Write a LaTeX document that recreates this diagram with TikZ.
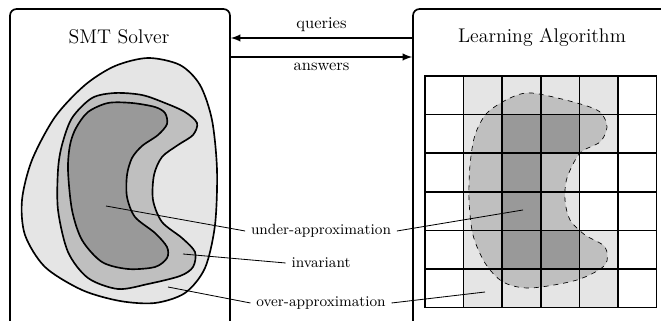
\documentclass[tikz,border=0pt]{standalone}
\usetikzlibrary{fit}

\tikzset{
  box/.style={draw, line width=1pt, rounded corners=4pt, inner sep=0pt},
  region/.style={draw, line width=1pt},
  leader/.style={line width=0.5pt},
  lbl/.style={font=\small},
}
\newcommand{\cs}{38.6}

\begin{document}
\begin{tikzpicture}[x=0.606pt, y=-0.606pt, >=latex]
\useasboundingbox (0,0) rectangle (661,322);
\clip (0,0) rectangle (661,321);
% Coordinates
\coordinate (s1) at (10,9);
\coordinate (s2) at (230,345);
\coordinate (l1) at (413,9);
\coordinate (l2) at (690,345);
\coordinate (q) at (0,38);
\coordinate (a) at (0,57);
% Boxes
\node[box, fit=(s1)(s2)] (smt) {};
\node[box, fit=(l1)(l2)] (learner) {};
\node[font=\large] (smt title) at (119,37) {SMT Solver};
\node[font=\large] (learner title) at (542,37) {Learning Algorithm};
% Messages
\draw[line width=1pt,->] (learner.west |- q) -- node[above] (queries) {queries} (smt.east |- q);
\draw[line width=1pt,->] (smt.east |- a) -- node[below] (answers) {answers} (learner.west |- a);
% Solver regions
\draw[region, fill=black!10] plot[smooth cycle] coordinates
  {(148,58) (180,65) (200,85) (212,120) (217,170) (215,225) (205,268)
   (185,293) (155,303) (120,301) (82,290) (45,267) (25,235) (22,200)
   (32,160) (55,117) (85,85) (115,66)};
\draw[region, fill=black!25] plot[smooth cycle] coordinates
  {(115,93) (142,95) (165,103) (185,112) (197,123) (193,135) (178,145)
   (162,157) (154,175) (153,200) (162,222) (182,238) (195,252) (193,267)
   (180,276) (148,284) (118,289) (88,278) (68,252) (58,210) (58,170)
   (62,145) (72,118) (92,98)};
\draw[region, fill=black!40] plot[smooth cycle] coordinates
  {(108,103) (132,103) (155,107) (165,113) (167,124) (158,135) (142,146)
   (132,158) (127,175) (127,197) (135,217) (155,233) (167,247) (167,258)
   (155,267) (128,269) (102,262) (82,240) (72,210) (68,170) (70,145)
   (76,128) (88,112)};
% Grid cells
\foreach \i/\j in {1/0,2/0,3/0,4/0,1/1,4/1,1/2,3/2,1/3,3/3,1/4,4/4,1/5,2/5,3/5,4/5}
  \fill[black!10] ({425+\i*\cs},{76+\j*\cs}) rectangle +(\cs,\cs);
\draw[dashed, fill=black!25] plot[smooth cycle] coordinates
  {(487,113) (510,98) (532,93) (577,103) (600,112) (607,127) (600,142)
   (580,153) (567,178) (565,200) (570,220) (585,235) (605,247) (605,265)
   (577,280) (530,288) (503,282) (485,263) (473,235) (469,200) (470,165)
   (475,135)};
\foreach \i/\j in {2/1,3/1,2/2,2/3,2/4,3/4}
  \fill[black!40] ({425+\i*\cs},{76+\j*\cs}) rectangle +(\cs,\cs);
\foreach \k in {0,...,6} {
  \draw[line width=1pt, line cap=rect] ({425+\k*\cs},76) -- ({425+\k*\cs},{76+6*\cs});
  \draw[line width=1pt, line cap=rect] (425,{76+\k*\cs}) -- ({425+6*\cs},{76+\k*\cs});
}
% Labels
\coordinate (u1) at (106,206);
\coordinate (u2) at (523,210);
\coordinate (i1) at (183,254);
\coordinate (o1) at (168,287);
\coordinate (o2) at (485,292);
\node[lbl] (under) at (321,231) {under-approximation};
\node[lbl] (inv) at (321,263) {invariant};
\node[lbl] (over) at (321,303) {over-approximation};
\draw[leader] (u1) -- (under.west);
\draw[leader] (under.east) -- (u2);
\draw[leader] (i1) -- (inv.west);
\draw[leader] (o1) -- (over.west);
\draw[leader] (over.east) -- (o2);
\end{tikzpicture}
\end{document}
